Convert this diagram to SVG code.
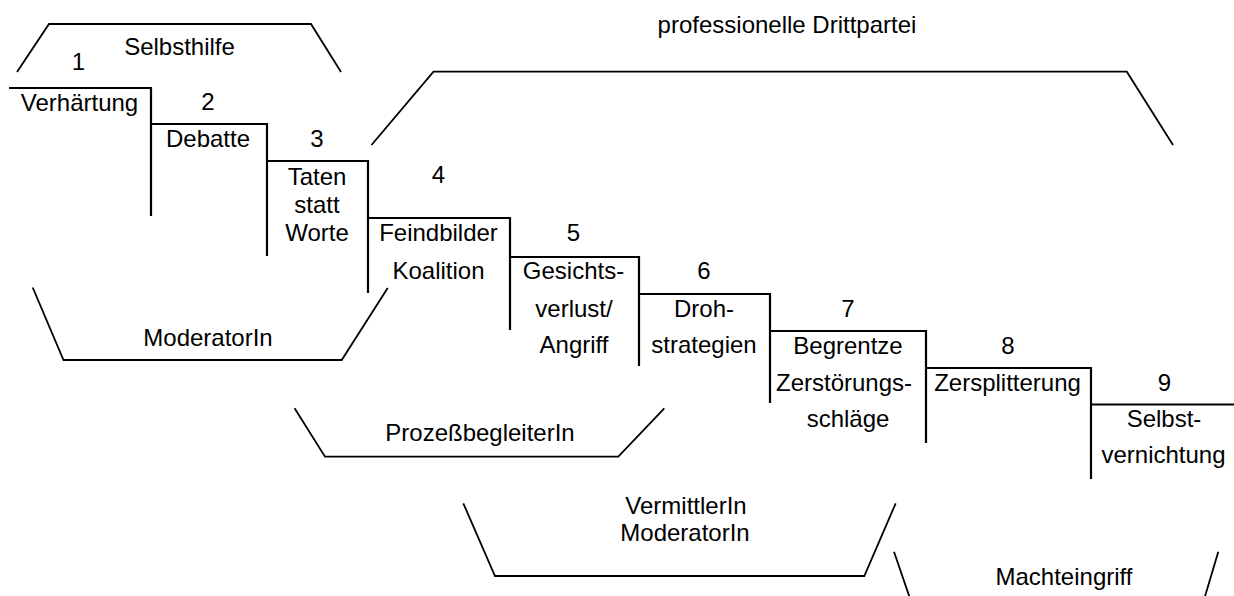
<svg xmlns="http://www.w3.org/2000/svg" width="1234" height="596" viewBox="0 0 1234 596">
  <style>
    text { font-family: "Liberation Sans", Arial, sans-serif; font-size: 24px; fill: #000; text-anchor: middle; }
    .step { fill: none; stroke: #000; stroke-width: 2.2; }
    .bracket { fill: none; stroke: #000; stroke-width: 1.8; stroke-linejoin: miter; }
  </style>
  <rect width="1234" height="596" fill="#fff"/>

  <!-- Escalation staircase: one group per stage -->
  <g id="stage1">
    <path class="step" d="M9,88 H151 V216"/>
    <text x="78.5" y="70">1</text>
    <text x="79.5" y="111">Verhärtung</text>
  </g>
  <g id="stage2">
    <path class="step" d="M151,124 H267 V256"/>
    <text x="208" y="110">2</text>
    <text x="208" y="147">Debatte</text>
  </g>
  <g id="stage3">
    <path class="step" d="M267,161 H368 V293"/>
    <text x="317" y="147">3</text>
    <text x="317" y="185">Taten</text>
    <text x="317" y="213">statt</text>
    <text x="317" y="241">Worte</text>
  </g>
  <g id="stage4">
    <path class="step" d="M367,218 H510 V330"/>
    <text x="438.5" y="183">4</text>
    <text x="438.5" y="241">Feindbilder</text>
    <text x="438.5" y="279">Koalition</text>
  </g>
  <g id="stage5">
    <path class="step" d="M510,257 H639 V366"/>
    <text x="573.5" y="241">5</text>
    <text x="573.5" y="279">Gesichts-</text>
    <text x="574" y="317">verlust/</text>
    <text x="574" y="353">Angriff</text>
  </g>
  <g id="stage6">
    <path class="step" d="M639,294 H770 V403"/>
    <text x="704" y="279">6</text>
    <text x="704" y="317">Droh-</text>
    <text x="704" y="353">strategien</text>
  </g>
  <g id="stage7">
    <path class="step" d="M770,331 H926 V443"/>
    <text x="848" y="317">7</text>
    <text x="848" y="354">Begrentze</text>
    <text x="844" y="391">Zerstörungs-</text>
    <text x="848" y="427">schläge</text>
  </g>
  <g id="stage8">
    <path class="step" d="M926,368 H1091 V479"/>
    <text x="1008" y="354">8</text>
    <text x="1007.5" y="391">Zersplitterung</text>
  </g>
  <g id="stage9">
    <path class="step" d="M1091,404.5 H1234"/>
    <text x="1164.5" y="391">9</text>
    <text x="1164" y="427">Selbst-</text>
    <text x="1163.5" y="463">vernichtung</text>
  </g>

  <!-- Intervention ranges (brackets) -->
  <g id="connectors">
    <g id="selbsthilfe">
      <path class="bracket" d="M17,72 L49,24 H311 L341,72"/>
      <text x="179.5" y="55">Selbsthilfe</text>
    </g>
    <g id="drittpartei">
      <path class="bracket" d="M371.5,145 L433.5,71.7 H1126.8 L1173,145"/>
      <text x="787" y="33">professionelle Drittpartei</text>
    </g>
    <g id="moderatorin">
      <path class="bracket" d="M32.7,287.5 L63.5,360 H341.7 L387.7,288"/>
      <text x="208" y="346">ModeratorIn</text>
    </g>
    <g id="prozessbegleiterin">
      <path class="bracket" d="M294.6,408.3 L325,456.7 H618.3 L664.3,408.3"/>
      <text x="480" y="441">ProzeßbegleiterIn</text>
    </g>
    <g id="vermittlerin">
      <path class="bracket" d="M463.3,503.3 L495,576 H864.3 L895.7,503.3"/>
      <text x="686" y="514">VermittlerIn</text>
      <text x="685" y="541">ModeratorIn</text>
    </g>
    <g id="machteingriff">
      <path class="bracket" d="M894,551.7 L909.5,597"/>
      <path class="bracket" d="M1218.3,551.7 L1204.8,597"/>
      <text x="1064" y="585">Machteingriff</text>
    </g>
  </g>
</svg>
